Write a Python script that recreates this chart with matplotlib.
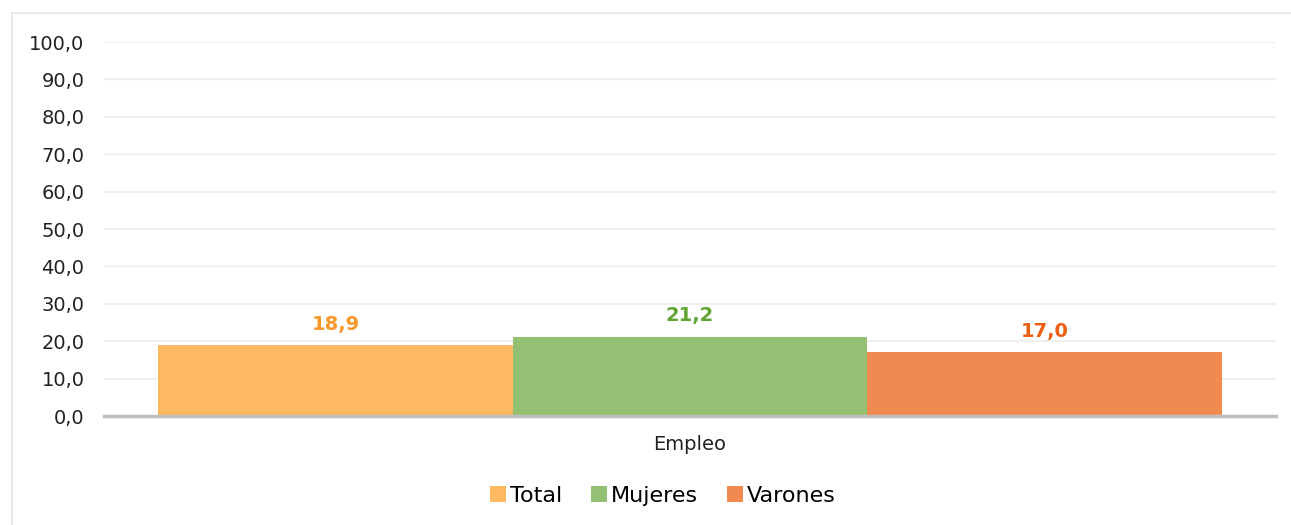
import numpy as np
import matplotlib.pyplot as plt
from matplotlib.patches import Rectangle

# data
categoria = ['Empleo']
series = ['Total', 'Mujeres', 'Varones']
valores = [18.9, 21.2, 17.0]
colores = ['#FFB963', '#93C072', '#F18A50']
colores_etiqueta = ['#F7982A', '#5FA532', '#EB5F12']
yticks = np.arange(0, 101, 10)

plt.rcParams['font.family'] = ['DejaVu Sans']

fig = plt.figure(figsize=(12.91, 5.25), dpi=100)
W, H = 1291, 525

# chart area frame
fig.patches.append(Rectangle((12 / W, -0.1), 1.2, 1 - 13 / H + 0.1,
                             transform=fig.transFigure, fill=False,
                             edgecolor='#E6E6E6', linewidth=1.2))

ax = fig.add_axes([104 / W, 1 - 416 / H, (1276 - 104) / W, (416 - 42) / H])

ancho = 354.5 / 1172
x = np.arange(len(categoria))
offsets = [-ancho, 0, ancho]
for i, s in enumerate(series):
    ax.bar(x + offsets[i], [valores[i]], width=ancho, color=colores[i],
           label=s, zorder=3)
    ax.text(x[0] + offsets[i], valores[i] + 3.0, f'{valores[i]:.1f}'.replace('.', ','),
            ha='center', va='bottom', fontsize=14, fontweight='bold',
            color=colores_etiqueta[i])

ax.set_xlim(-0.5, 0.5)
ax.set_ylim(0, 100)
ax.set_yticks(yticks)
ax.set_yticklabels([f'{v:.1f}'.replace('.', ',') for v in yticks], fontsize=14,
                   color='#222222')
ax.set_xticks(x)
ax.set_xticklabels(categoria, fontsize=14, color='#222222')
ax.tick_params(axis='both', length=0)
ax.tick_params(axis='y', pad=14)
ax.tick_params(axis='x', pad=14)
ax.grid(axis='y', color='#EFEFEF', linewidth=1.6, zorder=0)
for sp in ['left', 'right', 'top']:
    ax.spines[sp].set_visible(False)
ax.spines['bottom'].set_color('#BFBFBF')
ax.spines['bottom'].set_linewidth(2.5)
ax.spines['bottom'].set_zorder(4)

fig.legend(loc='center', bbox_to_anchor=(663 / W, 1 - 496 / H), ncol=3,
           frameon=False, fontsize=16, handlelength=0.7, handleheight=0.7,
           handletextpad=0.2, columnspacing=1.3)

fig.savefig('out.png', dpi=100)
